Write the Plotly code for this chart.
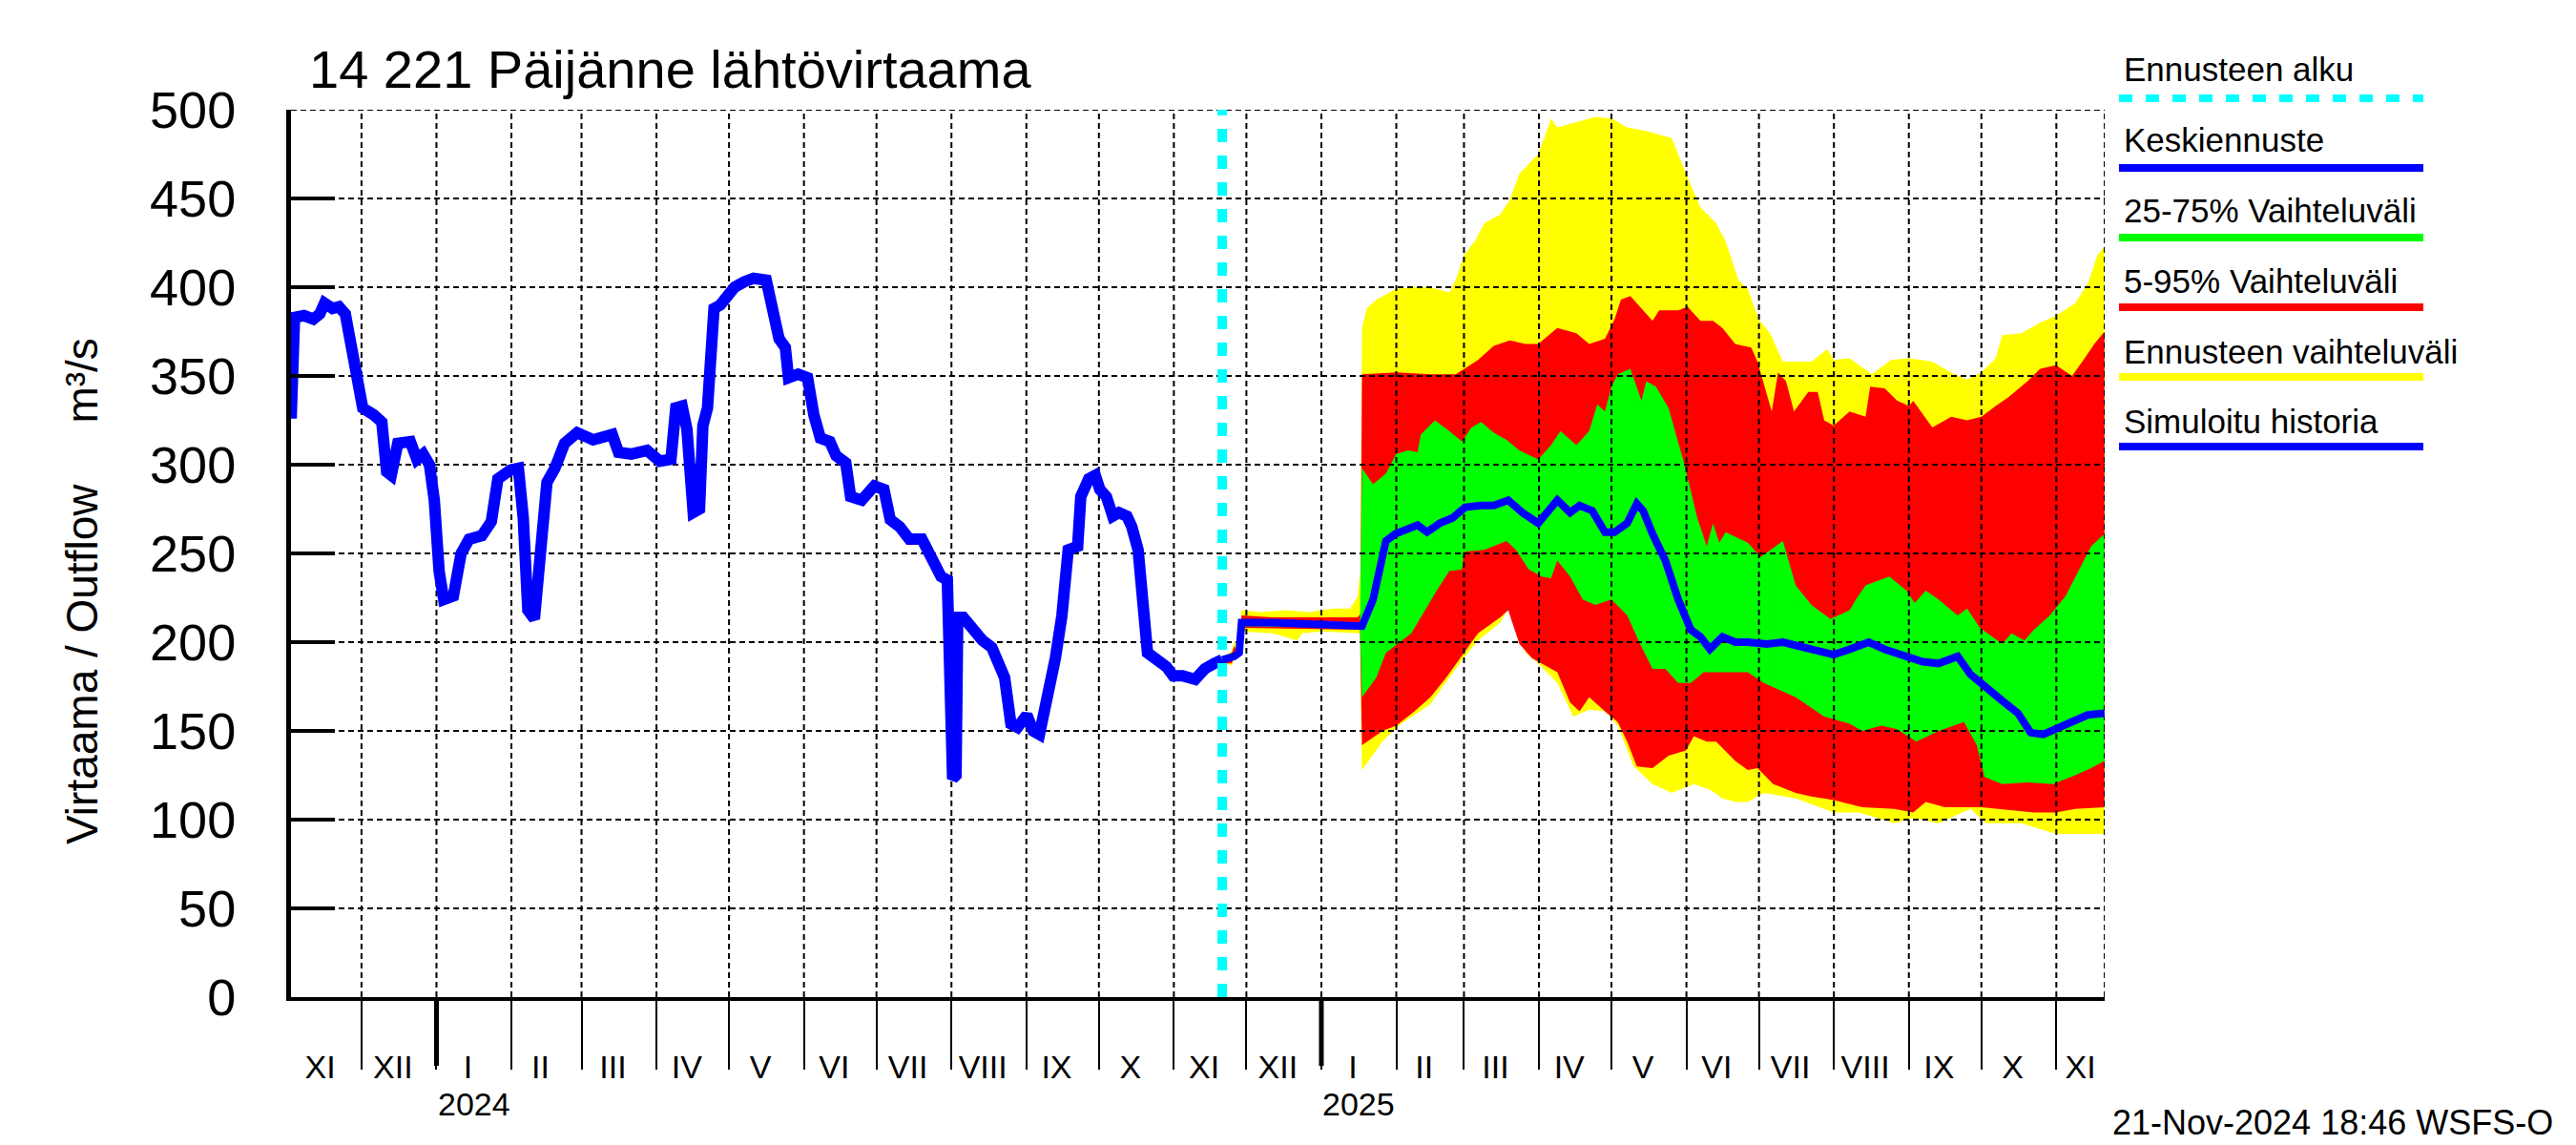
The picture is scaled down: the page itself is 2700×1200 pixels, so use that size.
import pandas as pd
import plotly.graph_objects as go

# ---------------- axis / time frame ----------------
X_START = "2023-11-01 20:00"
X_END = "2025-11-21 00:00"
FORECAST_START = "2024-11-21"
HIST_BASE = "2024-01-01"     # history day offsets are relative to this date
FC_BASE = "2025-01-01"       # forecast day offsets are relative to this date
Y_MIN, Y_MAX, Y_STEP = 0, 500, 50

# ---------------- simulated history (m3/s) ----------------
hist_day = [-60.1, -58.7, -54.8, -50.9, -48.2, -46.3, -43.0, -40.3, -37.7, -35.7,
            -33.1, -30.5, -25.9, -22.6, -20.6, -18.7, -16.0, -10.8, -8.1, -5.5,
            -2.9, -0.9, 1.1, 3.0, 7.0, 10.2, 13.5, 18.8, 22.7, 25.4,
            30.6, 33.9, 35.9, 37.8, 40.5, 43.1, 45.7, 49.0, 53.0, 58.2,
            64.8, 72.7, 75.3, 80.6, 87.1, 92.4, 95.0, 97.0, 99.0, 101.6,
            103.6, 104.9, 106.2, 108.8, 110.2, 112.1, 113.4, 114.8, 117.4, 120.7,
            123.3, 127.2, 131.2, 136.4, 139.1, 141.7, 144.3, 145.6, 149.6, 153.5,
            156.1, 158.8, 162.7, 165.3, 169.3, 171.3, 175.9, 181.1, 185.1, 187.7,
            191.6, 195.6, 200.8, 204.8, 208.7, 211.3, 212.3, 213.5, 214.9, 215.6,
            217.9, 221.9, 225.8, 229.7, 232.4, 235.0, 237.6, 240.3, 244.2, 246.8,
            249.4, 252.1, 254.7, 256.0, 258.7, 261.3, 265.2, 266.5, 269.8, 272.5,
            274.4, 277.1, 279.7, 282.3, 285.6, 287.6, 290.2, 291.5, 294.1, 298.1,
            302.0, 304.7, 308.6, 313.8, 317.8, 321.7, 325.0]
hist_flow = [326, 383, 384, 382, 385, 391, 388, 389, 385, 370,
             352, 332, 328, 324, 296, 294, 312, 313, 303, 306,
             300, 280, 240, 224, 226, 250, 258, 260, 268, 292,
             297, 298, 270, 218, 213, 248, 290, 298, 312, 318,
             314, 317, 307, 306, 308, 302, 303, 303, 332, 333,
             320, 290, 273, 275, 322, 332, 364, 388, 390, 396,
             400, 403, 405, 404, 383, 371, 366, 349, 351, 349,
             328, 315, 313, 305, 301, 282, 280, 288, 286, 269,
             265, 258, 258, 248, 237, 235, 125, 123, 125, 214,
             214, 207, 201, 197, 190, 180, 154, 152, 159, 150,
             148, 163, 184, 191, 215, 252, 254, 282, 292, 294,
             286, 282, 271, 273, 271, 265, 252, 226, 194, 190,
             186, 181, 181, 179, 185, 188, 190]

# ---------------- forecast (m3/s) ----------------
fc_max_day = [-41, -37, -36, -35, -34, -33, -25, -15, -5, 5, 12, 15, 16.2, 16.8, 18.8, 22.7, 31,
              38.5, 45.1, 52.9, 55.6, 59, 63.5, 67.4, 74, 77.9, 81.9, 89.7, 92.4, 95, 97.6,
              105.5, 113.4, 120.2, 126.5, 134.4, 144.9, 147.6, 150.8, 156.8, 163.3, 167.2,
              172.5, 176.4, 180.8, 185.6, 190.9, 196.2, 202.7, 209.3, 211.9, 218.5, 227.7,
              235.6, 243.1, 252.7, 260.5, 267.1, 273, 278.9, 281.6, 289.5, 297.3, 303.9,
              311.8, 317, 321, 323.9]
fc_max = [191, 195, 201, 196, 198, 218, 217, 218, 217, 219, 219, 226, 240, 377, 388, 393, 399,
          400, 400, 397, 404, 418, 426, 436, 441, 449, 464, 475, 485, 495, 490,
          493, 496, 495, 490, 488, 484, 475, 464, 445, 436, 426,
          404, 399, 382, 374, 358, 358, 358, 365, 359, 360, 351,
          359, 360, 358, 352, 348, 352, 360, 373, 374, 380, 384,
          391, 402, 418, 423]

fc_p95_day = [-41, -37, -36, -35, -34, -33, -20, 0, 15, 16.2, 16.8, 31, 45.1, 55.6, 59, 64.8,
              71.3, 77.9, 84.5, 89.7, 97.6, 105.5, 110.8, 117.3, 121.3, 123.9, 127.8, 137,
              139.7, 147.6, 151.5, 156.8, 162, 165.9, 171.2, 177.8, 180.4, 186.3, 188.9,
              192.2, 195.5, 201.4, 205.3, 208, 211.9, 218.5, 225.1, 227, 233, 238.2, 243.1,
              244.8, 252.7, 260.5, 267.1, 273, 278.9, 284.2, 292.1, 297.3, 303.9, 310.5,
              315.7, 319.7, 323.9]
fc_p95 = [191, 194, 198, 194, 196, 215, 214, 214, 214, 216, 351, 352, 351, 351, 354, 359,
          367, 370, 368, 368, 377, 374, 368, 371, 382, 393, 395, 381,
          387, 387, 389, 381, 381, 377, 368, 366, 358, 330, 352,
          347, 330, 341, 341, 325, 322, 330, 327, 344, 343, 336, 333,
          336, 321, 327, 325, 327, 333, 338, 347, 354, 356, 350,
          360, 368, 375]

fc_p75_day = [-41, -35, -33, 16, 16.8, 21.4, 26.7, 31, 35.9, 39.8, 41.1, 47, 52.9, 58.2, 62.1,
              66.1, 71.3, 76.6, 81.9, 89.7, 95, 98.9, 105.5, 110.8, 114.1, 117.3, 120, 122.6,
              127.8, 132.4, 134.4, 138.4, 143.6, 150.2, 155.5, 159.4, 162, 164.6, 167.2,
              176.4, 181.7, 190.9, 196.2, 202.7, 210.6, 218.5, 221.1, 225.1, 229, 234.9,
              242.1, 245.4, 250, 255.3, 263.2, 267.1, 272.4, 281.6, 285.5, 290.8, 294.7,
              301.3, 307.8, 313.1, 318.4, 323.9]
fc_p75 = [191, 193, 212, 211, 298, 289, 295, 306, 308, 307, 317, 325, 319, 313, 321,
          324, 318, 314, 308, 303, 311, 319, 311, 319, 334, 330, 344, 351,
          354, 336, 347, 344, 332, 300, 270, 254, 267, 256, 262,
          256, 248, 257, 232, 221, 213, 218, 224, 232, 234, 237,
          229, 222, 229, 224, 215, 219, 208, 199, 205, 201, 207,
          215, 226, 240, 254, 261]

fc_med_day = [-41, -36, -34, -33, -20, 0, 16.8, 21.4, 26.7, 30.6, 37.2, 39.8, 43.7, 49, 54.3,
              59.5, 66.1, 71.3, 77.3, 83.2, 89.7, 97.6, 102.9, 106.8, 112.1, 117.3, 121.3,
              126.5, 130.5, 133.1, 137, 142.3, 147.6, 152.8, 156.8, 160.7, 165.9, 171.2,
              176.4, 184.3, 190.9, 197.5, 206.7, 211.9, 218.5, 226.4, 233, 242.1, 248.7,
              255.3, 263.2, 268.4, 275, 281.6, 288.1, 293.4, 298.6, 303.9, 311.8, 317, 323.9]
fc_med = [190, 192, 194, 211, 211, 210, 209, 224, 257, 261, 265, 266, 262, 267, 270,
          276, 277, 277, 280, 273, 267, 280, 273, 277, 274, 262, 262,
          267, 278, 274, 261, 246, 224, 207, 203, 196, 203, 200,
          200, 199, 200, 198, 195, 193, 196, 200, 196, 192, 189,
          188, 192, 182, 174, 167, 160, 149, 148, 151, 155, 159, 160]

fc_p25_day = [-41, -35, -33, 16, 16.8, 22.7, 26.7, 37.2, 47.7, 52.9, 58.2, 59, 67.4, 76.6,
              80.5, 85.8, 91.1, 95, 97.6, 102.9, 108.1, 113.4, 120, 126.5, 131.8, 137,
              142.3, 147.6, 152.8, 158.1, 171.2, 176.4, 183, 196.2, 208, 218.5, 223.7,
              231.6, 238.2, 246.1, 255.3, 265.8, 271.1, 274.3, 281.6, 292.1, 302.6, 311.8,
              318.4, 323.9]
fc_p25 = [189, 191, 209, 208, 169, 180, 194, 205, 229, 240, 241, 251, 252, 257,
          252, 241, 237, 236, 246, 237, 224, 221, 224, 215, 199, 185,
          185, 177, 177, 183, 183, 183, 177, 169, 158, 154, 150,
          153, 151, 144, 150, 155, 142, 124, 120, 121, 120, 125,
          129, 133]

fc_p05_day = [-41, -37, -33, 16, 16.8, 25.3, 31, 38.5, 45.1, 51.6, 59, 64.8, 74, 77.3, 81.9,
              87.1, 92.4, 97.6, 102.9, 106.8, 110.8, 117.3, 122.6, 126.5, 130.5, 137, 143.6,
              150.8, 154.1, 159.4, 163.3, 171.2, 176.4, 180.4, 186.9, 196.2, 202.7, 211.9,
              223.7, 236.9, 244.8, 250, 257.9, 268.4, 273, 281.6, 294.7, 303.9, 311.8, 323.9]
fc_p05 = [188, 188, 208, 207, 142, 150, 153, 161, 169, 180, 194, 205, 214, 218, 199,
          191, 187, 183, 166, 161, 169, 161, 155, 144, 130, 129, 136,
          139, 147, 144, 144, 133, 128, 129, 120, 115, 113, 111,
          107, 106, 104, 110, 107, 107, 107, 106, 104, 104, 106, 107]

fc_min_day = [-41, -37, -33, -20, -10, -8, 0, 16, 16.8, 25.3, 31.9, 45.1, 58.2, 64.8, 74, 77.3,
              84.5, 89.7, 97.6, 104.2, 110.8, 117.3, 122.6, 129.2, 137, 144.9, 154.1, 160.7,
              165.9, 171.2, 176.4, 183, 196.2, 211.9, 222.4, 236.9, 244.8, 255.3, 268.4, 275,
              289.5, 303.9, 314.4, 323.9]
fc_min = [188, 187, 206, 205, 201, 205, 206, 205, 128, 144, 153, 165, 190, 201, 211, 219,
          194, 188, 177, 158, 162, 161, 153, 130, 120, 115, 120, 117,
          112, 110, 110, 115, 112, 104, 104, 98, 101, 98, 106, 98,
          98, 92, 92, 92]

# ---------------- labels ----------------
roman_months = ["I", "II", "III", "IV", "V", "VI", "VII", "VIII", "IX", "X", "XI", "XII"]
title_text = "14 221 Päijänne lähtövirtaama"
y_title = "Virtaama / Outflow     m³/s"
stamp_text = "21-Nov-2024 18:46 WSFS-O"
legend_items = [
    ("Ennusteen alku", "#00FFFF", "14px,14px"),
    ("Keskiennuste", "#0000FF", "solid"),
    ("25-75% Vaihteluväli", "#00FF00", "solid"),
    ("5-95% Vaihteluväli", "#FF0000", "solid"),
    ("Ennusteen vaihteluväli", "#FFFF00", "solid"),
    ("Simuloitu historia", "#0000FF", "solid"),
]

FONT = "Liberation Sans, Arial, Helvetica, sans-serif"
W, H = 2700, 1200
ML, MR, MT, MB = 305, 494, 115, 155
PW, PH = W - ML - MR, H - MT - MB


def to_dates(base, days):
    return (pd.Timestamp(base) + pd.to_timedelta(days, unit="D")).strftime("%Y-%m-%d %H:%M").tolist()


def band(day_hi, v_hi, day_lo, v_lo, color):
    x = to_dates(FC_BASE, day_hi) + to_dates(FC_BASE, day_lo)[::-1]
    y = list(v_hi) + list(v_lo)[::-1]
    return go.Scatter(x=x, y=y, mode="lines", fill="toself", fillcolor=color,
                      line=dict(width=0, color=color), hoverinfo="skip", showlegend=False)


fig = go.Figure()
fig.add_trace(band(fc_max_day, fc_max, fc_min_day, fc_min, "#FFFF00"))
fig.add_trace(band(fc_p95_day, fc_p95, fc_p05_day, fc_p05, "#FF0000"))
fig.add_trace(band(fc_p75_day, fc_p75, fc_p25_day, fc_p25, "#00FF00"))

# dashed grid drawn over the filled bands (but under the lines)
xs, xe = pd.Timestamp(X_START), pd.Timestamp(X_END)
gx, gy = [], []
for v in range(Y_MIN + Y_STEP, Y_MAX + 1, Y_STEP):
    gx += [xs.strftime("%Y-%m-%d %H:%M"), xe.strftime("%Y-%m-%d %H:%M"), None]
    gy += [v, v, None]
month_starts = pd.date_range(xs.normalize() + pd.offsets.MonthBegin(1), xe, freq="MS")
for m in list(month_starts) + [xe]:
    s = m.strftime("%Y-%m-%d %H:%M")
    gx += [s, s, None]
    gy += [Y_MIN, Y_MAX, None]
fig.add_trace(go.Scatter(x=gx, y=gy, mode="lines", hoverinfo="skip", showlegend=False,
                         line=dict(color="black", width=2, dash="6px,4px")))

fig.add_trace(go.Scatter(x=to_dates(HIST_BASE, hist_day), y=hist_flow, mode="lines",
                         line=dict(color="#0000FF", width=12), showlegend=False))
fig.add_trace(go.Scatter(x=to_dates(FC_BASE, fc_med_day), y=fc_med, mode="lines",
                         line=dict(color="#0000FF", width=8), showlegend=False))

# month labels near the centre of the visible part of each month
tickvals, ticktext = [], []
for m in pd.date_range(xs.normalize().replace(day=1), xe, freq="MS"):
    a = max(m, xs)
    b = min(m + pd.offsets.MonthBegin(1), xe)
    c = a + (b - a) / 2
    if b < xe:
        c -= pd.Timedelta(days=2.5)
    tickvals.append(c.strftime("%Y-%m-%d %H:%M"))
    ticktext.append(roman_months[m.month - 1])

shapes = []
annotations = []

# forecast start line
shapes.append(dict(type="line", xref="x", yref="paper", x0=FORECAST_START, x1=FORECAST_START,
                   y0=0, y1=1, line=dict(color="#00FFFF", width=10, dash="14px,14px"), layer="above"))

# year ticks and labels
for yr in sorted(set(month_starts.year)):
    jan = pd.Timestamp(year=int(yr), month=1, day=1)
    if xs <= jan <= xe:
        shapes.append(dict(type="line", xref="x", yref="paper", x0=jan, x1=jan,
                           y0=0, y1=-72 / PH, line=dict(color="black", width=5)))
        annotations.append(dict(x=(jan + pd.Timedelta(days=15.5)).strftime("%Y-%m-%d %H:%M"),
                                xref="x", y=-112 / PH, yref="paper", text=str(yr),
                                showarrow=False, font=dict(size=34), xanchor="center", yanchor="middle"))

# title, axis title, timestamp
annotations.append(dict(x=(322 - ML) / PW, y=(1045 - 72) / PH, xref="paper", yref="paper",
                        text=title_text, showarrow=False, xanchor="left", yanchor="middle",
                        font=dict(size=56)))
annotations.append(dict(x=(86 - ML) / PW, y=(1045 - 620) / PH, xref="paper", yref="paper",
                        text=y_title, showarrow=False, textangle=-90, xanchor="center",
                        yanchor="middle", font=dict(size=46)))
annotations.append(dict(x=(2678 - ML) / PW, y=(1045 - 1176) / PH, xref="paper", yref="paper",
                        text=stamp_text, showarrow=False, xanchor="right", yanchor="middle",
                        font=dict(size=36)))

# custom legend: text above a coloured line
for i, (label, color, dash) in enumerate(legend_items):
    ty = 72 + 74 * i
    ly = 103 + 73 * i
    annotations.append(dict(x=(2224 - ML) / PW, y=(1045 - ty) / PH, xref="paper", yref="paper",
                            text=label, showarrow=False, xanchor="left", yanchor="middle",
                            font=dict(size=35)))
    shapes.append(dict(type="line", xref="paper", yref="paper",
                       x0=(2221 - ML) / PW, x1=(2540 - ML) / PW,
                       y0=(1045 - ly) / PH, y1=(1045 - ly) / PH,
                       line=dict(color=color, width=8, dash=dash)))

fig.update_layout(
    width=W, height=H,
    margin=dict(l=ML, r=MR, t=MT, b=MB),
    paper_bgcolor="white", plot_bgcolor="white",
    showlegend=False,
    font=dict(family=FONT, color="black"),
    shapes=shapes, annotations=annotations,
)
fig.update_xaxes(
    type="date", range=[X_START, X_END],
    tickmode="array", tickvals=tickvals, ticktext=ticktext,
    ticks="", showgrid=False, zeroline=False,
    showline=True, linecolor="black", linewidth=4,
    tickfont=dict(size=34), ticklabelstandoff=40,
    minor=dict(tickmode="array", tickvals=[m.strftime("%Y-%m-%d") for m in month_starts],
               ticks="outside", ticklen=72, tickwidth=2, tickcolor="black", showgrid=False),
)
fig.update_yaxes(
    range=[Y_MIN, Y_MAX], tickmode="array", tickvals=list(range(Y_MIN, Y_MAX + 1, Y_STEP)),
    ticks="inside", ticklen=46, tickwidth=4, tickcolor="black",
    showline=True, linecolor="black", linewidth=5,
    showgrid=False, zeroline=False,
    tickfont=dict(size=54), ticklabelstandoff=42,
)

fig.write_html("out.html", config={"displayModeBar": False},
               post_script="document.body.style.margin='0';")
